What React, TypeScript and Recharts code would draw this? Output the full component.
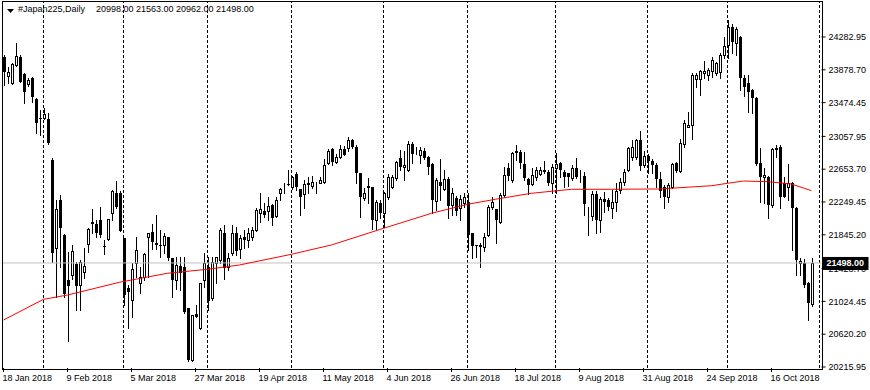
import React from 'react';
import { ComposedChart, Bar, Line, XAxis, YAxis, ReferenceLine } from 'recharts';

// daily OHLC, one entry per bar (18 Jan 2018 -> end Oct 2018)
const opens = [
  24041, 23802, 23712, 23938, 24041, 23827, 23700, 23774, 23519, 23280,
  23281, 23272, 22767, 21679, 22274, 21843, 21288, 21350, 21481, 21227,
  21391, 21728, 21985, 21978, 22028, 21707, 21790, 22110, 22365, 22365,
  21802, 21186, 21042, 21494, 21247, 21321, 21814, 21884, 21740, 21724,
  21720, 21814, 21555, 21288, 21461, 21453, 20939, 20302, 20869, 20693,
  21288, 21453, 21063, 21494, 21535, 21863, 21453, 21617, 21872, 21666,
  21814, 21781, 21814, 21904, 22110, 22143, 22143, 22212, 22077, 22356,
  22472, 22476, 22439, 22591, 22406, 22348, 22468, 22447, 22488, 22488,
  22500, 22735, 22899, 22747, 22808, 22907, 22911, 23014, 22932, 22611,
  22295, 22447, 22430, 22028, 22241, 22110, 22307, 22439, 22541, 22788,
  22677, 22644, 22965, 22870, 22829, 22882, 22808, 22718, 22266, 22500,
  22406, 22529, 22212, 22295, 22172, 22233, 22254, 21863, 21715, 21707,
  21699, 21843, 22192, 22159, 22007, 22336, 22665, 22521, 22870, 22870,
  22718, 22529, 22472, 22562, 22595, 22640, 22624, 22480, 22665, 22726,
  22624, 22603, 22541, 22665, 22570, 22570, 22069, 22077, 22348, 22028,
  22282, 22274, 22172, 22254, 22397, 22500, 22644, 22808, 22808, 23014,
  22706, 22816, 22759, 22706, 22529, 22439, 22316, 22439, 22735, 22636,
  22965, 23177, 23198, 23761, 23761, 23835, 23815, 23868, 23843, 23856,
  24061, 24184, 24402, 24213, 24287, 23774, 23712, 23630, 23527, 22726,
  22554, 22562, 22213, 22911, 22932, 22488, 22430, 22488, 22172, 21494,
  21494, 21255, 20998,
];
const highs = [
  24060, 23917, 23960, 24205, 24060, 23840, 23774, 23790, 23530, 23383,
  23404, 23346, 22790, 22274, 22336, 21850, 21637, 21720, 21514, 21530,
  21679, 21925, 22159, 22028, 22192, 21781, 22045, 22397, 22508, 22380,
  21810, 21227, 21494, 21814, 21453, 21617, 21872, 21978, 22089, 21904,
  21863, 21814, 21560, 21576, 21576, 21576, 20945, 20860, 20980, 21247,
  21625, 21576, 21576, 21576, 21925, 21966, 21617, 21966, 21945, 21843,
  21904, 21925, 21945, 22172, 22365, 22233, 22307, 22225, 22315, 22418,
  22488, 22644, 22570, 22620, 22410, 22521, 22562, 22570, 22500, 22562,
  22776, 22899, 22911, 22841, 22952, 22940, 23055, 23022, 22952, 22611,
  22418, 22541, 22440, 22274, 22274, 22377, 22595, 22582, 22759, 22891,
  22882, 23003, 22993, 22932, 22924, 22911, 22816, 22726, 22541, 22776,
  22644, 22562, 22418, 22323, 22336, 22356, 22356, 21863, 21720, 21740,
  21863, 22212, 22315, 22159, 22356, 22685, 22735, 22870, 22952, 22891,
  22870, 22541, 22665, 22685, 22685, 22759, 22644, 22718, 22858, 22747,
  22644, 22611, 22705, 22788, 22644, 22624, 22192, 22389, 22389, 22315,
  22377, 22295, 22397, 22480, 22541, 22652, 22931, 23014, 23022, 23125,
  22882, 22841, 22776, 22726, 22623, 22459, 22488, 22726, 22747, 23022,
  23260, 23363, 23835, 23835, 23876, 23987, 23897, 24040, 23979, 24082,
  24287, 24493, 24443, 24410, 24295, 23814, 23814, 23638, 23540, 22911,
  22665, 22570, 22911, 22952, 22952, 22562, 22718, 22500, 22184, 21555,
  21542, 21268, 21563,
];
const lows = [
  23691, 23720, 23700, 23930, 23725, 23466, 23680, 23486, 23104, 23075,
  23270, 22964, 21514, 21083, 21453, 21083, 20541, 21296, 20919, 20919,
  21309, 21637, 21863, 21814, 21814, 21609, 21780, 22028, 22172, 21888,
  20980, 20693, 20836, 21329, 21132, 21288, 21329, 21666, 21666, 21576,
  21617, 21535, 21075, 21173, 21165, 20886, 20294, 20294, 20828, 20690,
  21206, 20919, 21042, 21247, 21494, 21296, 21412, 21596, 21596, 21555,
  21679, 21699, 21781, 21896, 22007, 22069, 22028, 21966, 22069, 22274,
  22356, 22455, 22406, 22397, 22089, 22172, 22365, 22418, 22356, 22480,
  22488, 22718, 22706, 22726, 22788, 22829, 22882, 22911, 22480, 22069,
  22274, 22233, 21913, 21913, 22048, 21945, 22282, 22418, 22521, 22644,
  22521, 22636, 22726, 22841, 22726, 22776, 22595, 22110, 22151, 22274,
  22397, 22048, 22089, 22089, 22028, 22192, 21658, 21555, 21576, 21453,
  21650, 21830, 22159, 21740, 21995, 22315, 22521, 22500, 22767, 22665,
  22521, 22348, 22459, 22521, 22582, 22603, 22459, 22356, 22356, 22562,
  22439, 22447, 22521, 22541, 22500, 22089, 21843, 22028, 21863, 21884,
  22131, 22151, 22048, 22143, 22356, 22459, 22636, 22767, 22776, 22644,
  22685, 22603, 22603, 22430, 22316, 22172, 22254, 22418, 22623, 22623,
  22932, 23170, 23022, 23663, 23568, 23774, 23753, 23794, 23815, 23774,
  24020, 24020, 24090, 24061, 23630, 23556, 23363, 23342, 22706, 22254,
  22241, 22048, 22192, 22808, 22172, 22315, 22274, 21658, 21350, 21350,
  21206, 20795, 20962,
];
const closes = [
  23856, 23856, 23950, 24049, 23732, 23609, 23753, 23548, 23227, 23272,
  23334, 22981, 21625, 22159, 21925, 21116, 21218, 21650, 21214, 21514,
  21461, 21913, 22005, 21863, 21843, 21691, 22036, 22389, 22192, 21888,
  21103, 21144, 21420, 21658, 21321, 21609, 21863, 21761, 21720, 21720,
  21830, 21555, 21288, 21473, 21370, 20898, 20302, 20857, 20836, 21247,
  21494, 21034, 21514, 21568, 21904, 21432, 21555, 21863, 21650, 21802,
  21781, 21872, 21904, 22151, 22159, 22089, 22200, 22048, 22274, 22405,
  22476, 22472, 22562, 22439, 22315, 22472, 22480, 22500, 22488, 22521,
  22706, 22883, 22747, 22808, 22899, 22829, 23014, 22923, 22611, 22315,
  22365, 22418, 22028, 22254, 22110, 22365, 22554, 22562, 22747, 22677,
  22706, 22965, 22841, 22870, 22891, 22788, 22685, 22274, 22521, 22447,
  22529, 22200, 22356, 22143, 22282, 22307, 21843, 21707, 21707, 21715,
  21814, 22192, 22254, 22028, 22336, 22582, 22570, 22850, 22883, 22726,
  22541, 22459, 22582, 22644, 22644, 22620, 22480, 22685, 22718, 22644,
  22562, 22562, 22665, 22562, 22570, 22225, 22069, 22348, 22028, 22282,
  22254, 22192, 22254, 22389, 22500, 22624, 22911, 22931, 23014, 22698,
  22816, 22759, 22706, 22529, 22389, 22316, 22459, 22718, 22636, 22973,
  23227, 23198, 23815, 23815, 23868, 23868, 23876, 24000, 23966, 24061,
  24172, 24402, 24226, 24378, 23774, 23663, 23609, 23527, 22718, 22554,
  22582, 22213, 22899, 22890, 22315, 22315, 22488, 22172, 21534, 21526,
  21227, 21009, 21498,
];

// red moving average, read at a few bars
const maIdx = [0, 10, 16, 29, 41, 51, 59, 72, 82, 95, 107, 116, 123, 132, 142, 152, 164, 177, 181, 185, 191, 197, 202];
const maVals = [20795, 21050, 21103, 21260, 21371, 21420, 21473, 21605, 21720, 21925, 22110, 22221, 22283, 22357, 22406, 22406, 22410, 22450, 22480, 22508, 22500, 22471, 22389];

const dateTickIdx = [0, 16, 32, 48, 64, 80, 96, 112, 128, 144, 160, 176, 192];
const dateTickLabels = [
  '18 Jan 2018', '9 Feb 2018', '5 Mar 2018', '27 Mar 2018', '19 Apr 2018', '11 May 2018', '4 Jun 2018',
  '26 Jun 2018', '18 Jul 2018', '9 Aug 2018', '31 Aug 2018', '24 Sep 2018', '16 Oct 2018',
];
const priceTicks = [24282.95, 23878.7, 23474.45, 23057.95, 22653.7, 22249.45, 21845.2, 21428.7, 21024.45, 20620.2, 20215.95];
const separatorIdx = [10, 30, 51, 72, 95, 116, 138, 161, 181, 204];
const lastBar = { open: 20998, high: 21563, low: 20962, close: 21498 };
const slotCount = 205;

const FONT = '"Liberation Sans", Arial, sans-serif';

const data = Array.from({ length: slotCount }, (_, i) => {
  const row: any = { idx: i };
  if (i < opens.length) {
    row.open = opens[i];
    row.high = highs[i];
    row.low = lows[i];
    row.close = closes[i];
  }
  const m = maIdx.indexOf(i);
  if (m >= 0) row.ma = maVals[m];
  return row;
});

const Candle = (props: any) => {
  const { x, y, width, height, payload } = props;
  if (!payload || payload.open == null) return null;
  const { open, high, low, close } = payload;
  const top = Math.min(y, y + height);
  const bot = Math.max(y, y + height);
  const span = high - low || 1;
  const py = (v: number) => top + ((high - v) / span) * (bot - top);
  const cx = Math.floor(x + width / 2) + 0.5;
  const left = cx - 1.5;
  const yo = Math.round(py(open));
  const yc = Math.round(py(close));
  const bTop = Math.min(yo, yc);
  const bBot = Math.max(yo, yc);
  const up = close >= open;
  return (
    <g>
      <line x1={cx} x2={cx} y1={Math.round(top)} y2={Math.round(bot) + 1} stroke="#000" strokeWidth={1} />
      {up ? (
        <rect x={left + 0.5} y={bTop + 0.5} width={2} height={Math.max(bBot - bTop, 0)} fill="#fff" stroke="#000" strokeWidth={1} />
      ) : (
        <rect x={left} y={bTop} width={3} height={Math.max(bBot - bTop, 1)} fill="#000" />
      )}
    </g>
  );
};

const DateTick = (props: any) => {
  const { x, payload } = props;
  const k = dateTickIdx.indexOf(payload.value);
  return (
    <text x={x - 1} y={381} textAnchor="start" fontSize={9} fontFamily={FONT} fill="#000">
      {k >= 0 ? dateTickLabels[k] : ''}
    </text>
  );
};

const PriceTick = (props: any) => {
  const { x, y, payload } = props;
  return (
    <text x={x} y={y + 3.3} textAnchor="start" fontSize={9} fontFamily={FONT} fill="#000">
      {payload.value.toFixed(2)}
    </text>
  );
};

const PriceBox = (props: any) => {
  const { viewBox } = props;
  if (!viewBox) return null;
  const right = viewBox.x + viewBox.width;
  return (
    <g>
      <rect x={right + 1} y={viewBox.y - 6} width={46} height={13} fill="#000" />
      <text x={right + 5} y={viewBox.y + 3.5} fontSize={9} fontWeight="bold" fontFamily={FONT} fill="#fff">
        {lastBar.close.toFixed(2)}
      </text>
    </g>
  );
};

const App = () => {
  return (
    <div style={{ position: 'relative', width: 870, height: 390, background: '#fff', fontFamily: FONT }}>
      <style>{'body{margin:0}'}</style>
      <ComposedChart
        width={870}
        height={390}
        data={data}
        margin={{ top: 2, right: 0, bottom: 0, left: 1.5 }}
      >
        <XAxis
          dataKey="idx"
          type="category"
          ticks={dateTickIdx}
          interval={0}
          tick={<DateTick />}
          tickLine={{ stroke: '#000' }}
          tickSize={4}
          axisLine={false}
          height={22}
        />
        <YAxis
          orientation="right"
          type="number"
          domain={[20203.5, 24714.3]}
          ticks={priceTicks}
          interval={0}
          allowDataOverflow
          width={48.5}
          axisLine={false}
          tickLine={{ stroke: '#000' }}
          tickSize={4}
          tickMargin={3}
          tick={<PriceTick />}
        />
        {separatorIdx.map((s) => (
          <ReferenceLine key={s} x={s} stroke="#000" strokeDasharray="3 2" />
        ))}
        <ReferenceLine y={lastBar.close} stroke="#C0C0C0" label={<PriceBox />} />
        <Bar dataKey={(d: any) => (d.open == null ? null : [d.low, d.high])} barSize={3} shape={<Candle />} isAnimationActive={false} />
        <Line dataKey="ma" type="linear" stroke="#FF0000" strokeWidth={1} dot={false} connectNulls isAnimationActive={false} />
      </ComposedChart>
      <div
        style={{
          position: 'absolute', left: 2, top: 1, width: 821, height: 369,
          border: '1px solid #000', boxSizing: 'border-box', pointerEvents: 'none',
        }}
      />
      <svg style={{ position: 'absolute', left: 0, top: 0 }} width={20} height={20}>
        <polygon points="7,9 14,9 10.5,13" fill="#000" />
      </svg>
      <div style={{ position: 'absolute', left: 18, top: 4, fontSize: 9, color: '#000', whiteSpace: 'pre' }}>
        #Japan225,Daily
      </div>
      <div style={{ position: 'absolute', left: 96, top: 4, fontSize: 9, color: '#000', whiteSpace: 'pre' }}>
        {`${lastBar.open.toFixed(2)} ${lastBar.high.toFixed(2)} ${lastBar.low.toFixed(2)} ${lastBar.close.toFixed(2)}`}
      </div>
    </div>
  );
};

export default App;
